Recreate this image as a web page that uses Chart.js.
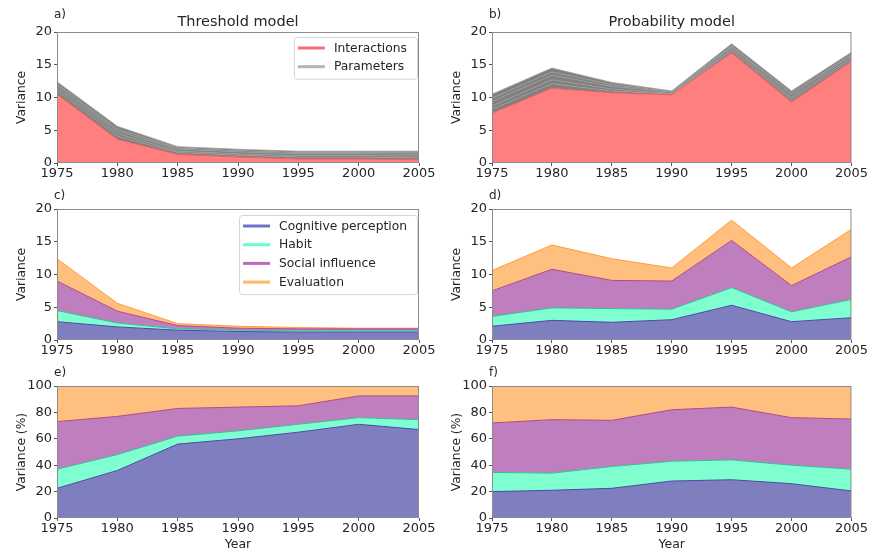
<!DOCTYPE html>
<html>
<head>
<meta charset="utf-8">
<script src="https://cdn.jsdelivr.net/npm/chart.js@4"></script>
<style>
  body { margin: 0; background: #fff; }
  #wrap { position: relative; width: 869px; height: 551px; overflow: hidden; }
  #wrap canvas { position: absolute; }
</style>
</head>
<body>
<div id="wrap">
  <canvas id="chartA" width="450" height="185" style="left:0;top:0"></canvas>
  <canvas id="chartB" width="434" height="185" style="left:435px;top:0"></canvas>
  <canvas id="chartC" width="450" height="185" style="left:0;top:180px"></canvas>
  <canvas id="chartD" width="434" height="185" style="left:435px;top:180px"></canvas>
  <canvas id="chartE" width="450" height="191" style="left:0;top:360px"></canvas>
  <canvas id="chartF" width="434" height="191" style="left:435px;top:360px"></canvas>
</div>
<script>
// categories and tick labels
const years = [1975, 1980, 1985, 1990, 1995, 2000, 2005];
const varianceTicks = [0, 5, 10, 15, 20];
const percentTicks = [0, 20, 40, 60, 80, 100];

// a) threshold model: interactions + parameter layers
const threshInteractions = [10.5, 3.6, 1.3, 0.9, 0.6, 0.6, 0.5];
const threshParams = [
  [0.5, 0.5, 0.3, 0.3, 0.3, 0.3, 0.3],
  [0.4, 0.4, 0.2, 0.2, 0.2, 0.2, 0.25],
  [0.4, 0.4, 0.3, 0.3, 0.3, 0.3, 0.3],
  [0.3, 0.3, 0.2, 0.2, 0.2, 0.2, 0.2],
  [0.3, 0.4, 0.2, 0.2, 0.2, 0.2, 0.25]
];

// b) probability model
const probInteractions = [7.6, 11.4, 10.7, 10.4, 16.8, 9.3, 15.5];
const probParams = [
  [0.6, 0.7, 0.3, 0.1, 0.3, 0.4, 0.3],
  [0.5, 0.6, 0.3, 0.1, 0.3, 0.3, 0.3],
  [0.7, 0.7, 0.4, 0.2, 0.3, 0.4, 0.3],
  [0.5, 0.5, 0.3, 0.1, 0.2, 0.3, 0.2],
  [0.6, 0.6, 0.3, 0.1, 0.3, 0.3, 0.3]
];

// c) threshold model by component
const threshCognitive = [2.8, 2.0, 1.5, 1.3, 1.2, 1.2, 1.2];
const threshHabit = [1.7, 0.6, 0.2, 0.2, 0.2, 0.2, 0.2];
const threshSocial = [4.5, 1.8, 0.5, 0.3, 0.3, 0.3, 0.3];
const threshEvaluation = [3.4, 1.2, 0.3, 0.3, 0.2, 0.1, 0.1];

// d) probability model by component
const probCognitive = [2.1, 3.0, 2.7, 3.1, 5.3, 2.8, 3.4];
const probHabit = [1.5, 1.9, 2.1, 1.6, 2.7, 1.5, 2.8];
const probSocial = [3.9, 5.9, 4.3, 4.3, 7.2, 4.0, 6.5];
const probEvaluation = [3.1, 3.7, 3.3, 2.0, 3.1, 2.7, 4.2];

// e) threshold model, percent
const threshCognitivePct = [22.5, 36, 56, 60, 65, 71, 67];
const threshHabitPct = [14.5, 12, 6, 6, 6, 5, 7.5];
const threshSocialPct = [36, 29, 21, 18, 14, 16.5, 18];
const threshEvaluationPct = [27, 23, 17, 16, 15, 7.5, 7.5];

// f) probability model, percent
const probCognitivePct = [20, 21, 22.5, 28, 29, 26, 20.5];
const probHabitPct = [14.5, 13, 16.5, 15, 15, 14, 16.5];
const probSocialPct = [37.5, 40.5, 35, 39, 40, 36, 38];
const probEvaluationPct = [28, 25.5, 26, 18, 16, 24, 25];

const FONT = '"DejaVu Sans", sans-serif';
const TEXT = '#262626';

const colors = {
  interactions: { fill: '#ff7f7f', line: '#f06060', legend: '#ff6a6a' },
  params: { fill: '#808080', line: '#9c9c9c', legend: '#b4b4b4' },
  cognitive: { fill: '#7f7fbf', line: '#4a4aa8', legend: '#7070c8' },
  habit: { fill: '#7fffd0', line: '#3cb89a', legend: '#66ffcc' },
  social: { fill: '#bf7fbf', line: '#b04a86', legend: '#c066c4' },
  evaluation: { fill: '#ffbf7f', line: '#ff9d3a', legend: '#ffb866' }
};

function toPoints(vals) {
  return vals.map((v, i) => ({ x: years[i], y: v }));
}

function area(label, vals, c, first) {
  return {
    label: label,
    data: toPoints(vals),
    backgroundColor: c.fill,
    borderColor: c.line,
    borderWidth: 1,
    pointRadius: 0,
    tension: 0,
    fill: first ? 'origin' : '-1'
  };
}

function paramSets(interactions, params) {
  const sets = [area('Interactions', interactions, colors.interactions, true)];
  params.forEach((p, i) => {
    const ds = area('Parameters ' + (i + 1), p, colors.params, false);
    ds.borderWidth = 0.8;
    sets.push(ds);
  });
  return sets;
}

function componentSets(cog, habit, social, evaluation) {
  return [
    area('Cognitive perception', cog, colors.cognitive, true),
    area('Habit', habit, colors.habit, false),
    area('Social influence', social, colors.social, false),
    area('Evaluation', evaluation, colors.evaluation, false)
  ];
}

// frame, panel letter, title and the boxed legend inside the axes
const panelDeco = {
  id: 'panelDeco',
  afterDraw(chart, args, opts) {
    const ctx = chart.ctx;
    const a = chart.chartArea;
    ctx.save();
    ctx.strokeStyle = '#8c8c8c';
    ctx.lineWidth = 1;
    ctx.strokeRect(a.left + 0.5, a.top + 0.5, a.right - a.left - 1, a.bottom - a.top - 1);

    ctx.fillStyle = TEXT;
    ctx.textBaseline = 'alphabetic';
    ctx.font = '12px ' + FONT;
    ctx.textAlign = 'left';
    if (opts.tag) ctx.fillText(opts.tag, a.left - 3, opts.tagY);
    if (opts.title) {
      ctx.font = '14.5px ' + FONT;
      ctx.textAlign = 'center';
      ctx.fillText(opts.title, (a.left + a.right) / 2, opts.titleY);
    }

    if (opts.items) {
      ctx.font = '12.3px ' + FONT;
      ctx.textAlign = 'left';
      ctx.textBaseline = 'middle';
      let tw = 0;
      opts.items.forEach(it => { tw = Math.max(tw, ctx.measureText(it.text).width); });
      const w = 40 + tw + 10;
      const h = 11 + (opts.items.length - 1) * 18.7 + 12;
      const x0 = a.right - 2 - w;
      const y0 = a.top + opts.legendTop;
      ctx.beginPath();
      ctx.roundRect(x0 + 0.5, y0 + 0.5, w, h, 3);
      ctx.fillStyle = 'rgba(255,255,255,0.85)';
      ctx.fill();
      ctx.strokeStyle = '#d4d4d4';
      ctx.stroke();
      opts.items.forEach((it, i) => {
        const y = y0 + 11 + i * 18.7;
        ctx.strokeStyle = it.color;
        ctx.lineWidth = 3;
        ctx.beginPath();
        ctx.moveTo(x0 + 4, y);
        ctx.lineTo(x0 + 31, y);
        ctx.stroke();
        ctx.fillStyle = TEXT;
        ctx.fillText(it.text, x0 + 40, y + 0.5);
      });
    }
    ctx.restore();
  }
};
Chart.register(panelDeco);

function panelOptions(p) {
  const tickFont = { family: FONT, size: 13, lineHeight: 1 };
  return {
    responsive: false,
    animation: false,
    layout: { padding: { top: p.top, right: p.right, left: 0, bottom: 0 } },
    plugins: {
      legend: { display: false },
      tooltip: { enabled: false },
      panelDeco: p.deco
    },
    scales: {
      x: {
        type: 'linear',
        min: 1975,
        max: 2005,
        afterBuildTicks: s => { s.ticks = years.map(v => ({ value: v })); },
        afterFit: s => { s.height = p.xh; },
        ticks: { callback: v => String(v), font: tickFont, color: TEXT, padding: 1, maxRotation: 0, autoSkip: false },
        grid: { drawOnChartArea: false, drawTicks: true, tickLength: 3, color: '#555' },
        border: { display: false },
        title: p.xTitle ? {
          display: true, text: p.xTitle, color: TEXT,
          font: { family: FONT, size: 12.5, lineHeight: 1 }, padding: { top: 0, bottom: 0 }
        } : { display: false }
      },
      y: {
        stacked: true,
        min: 0,
        max: p.ymax,
        afterBuildTicks: s => { s.ticks = p.yTicks.map(v => ({ value: v })); },
        afterFit: s => { s.width = 57; },
        ticks: { font: tickFont, color: TEXT, padding: 2 },
        grid: { drawOnChartArea: false, drawTicks: true, tickLength: 3, color: '#555' },
        border: { display: false },
        title: {
          display: true, text: p.yTitle, color: TEXT,
          font: { family: FONT, size: 12.3, lineHeight: 1.2 }, padding: { top: 14.5, bottom: 0 }
        }
      }
    }
  };
}

const legendParams = [
  { text: 'Interactions', color: colors.interactions.legend },
  { text: 'Parameters', color: colors.params.legend }
];
const legendComponents = [
  { text: 'Cognitive perception', color: colors.cognitive.legend },
  { text: 'Habit', color: colors.habit.legend },
  { text: 'Social influence', color: colors.social.legend },
  { text: 'Evaluation', color: colors.evaluation.legend }
];

// a) Threshold model
new Chart(document.getElementById('chartA').getContext('2d'), {
  type: 'line',
  data: { datasets: paramSets(threshInteractions, threshParams) },
  options: panelOptions({
    top: 32, right: 31, xh: 22, ymax: 20, yTicks: varianceTicks, yTitle: 'Variance',
    deco: { tag: 'a)', tagY: 18, title: 'Threshold model', titleY: 26, items: legendParams, legendTop: 5 }
  })
});

// b) Probability model
new Chart(document.getElementById('chartB').getContext('2d'), {
  type: 'line',
  data: { datasets: paramSets(probInteractions, probParams) },
  options: panelOptions({
    top: 32, right: 15, xh: 22, ymax: 20, yTicks: varianceTicks, yTitle: 'Variance',
    deco: { tag: 'b)', tagY: 18, title: 'Probability model', titleY: 26 }
  })
});

// c) Threshold model by component
new Chart(document.getElementById('chartC').getContext('2d'), {
  type: 'line',
  data: { datasets: componentSets(threshCognitive, threshHabit, threshSocial, threshEvaluation) },
  options: panelOptions({
    top: 29, right: 31, xh: 25, ymax: 20, yTicks: varianceTicks, yTitle: 'Variance',
    deco: { tag: 'c)', tagY: 19, items: legendComponents, legendTop: 6 }
  })
});

// d) Probability model by component
new Chart(document.getElementById('chartD').getContext('2d'), {
  type: 'line',
  data: { datasets: componentSets(probCognitive, probHabit, probSocial, probEvaluation) },
  options: panelOptions({
    top: 29, right: 15, xh: 25, ymax: 20, yTicks: varianceTicks, yTitle: 'Variance',
    deco: { tag: 'd)', tagY: 19 }
  })
});

// e) Threshold model, share of variance
new Chart(document.getElementById('chartE').getContext('2d'), {
  type: 'line',
  data: { datasets: componentSets(threshCognitivePct, threshHabitPct, threshSocialPct, threshEvaluationPct) },
  options: panelOptions({
    top: 26, right: 31, xh: 33, ymax: 100, yTicks: percentTicks, yTitle: 'Variance (%)', xTitle: 'Year',
    deco: { tag: 'e)', tagY: 16 }
  })
});

// f) Probability model, share of variance
new Chart(document.getElementById('chartF').getContext('2d'), {
  type: 'line',
  data: { datasets: componentSets(probCognitivePct, probHabitPct, probSocialPct, probEvaluationPct) },
  options: panelOptions({
    top: 26, right: 15, xh: 33, ymax: 100, yTicks: percentTicks, yTitle: 'Variance (%)', xTitle: 'Year',
    deco: { tag: 'f)', tagY: 16 }
  })
});
</script>
</body>
</html>
